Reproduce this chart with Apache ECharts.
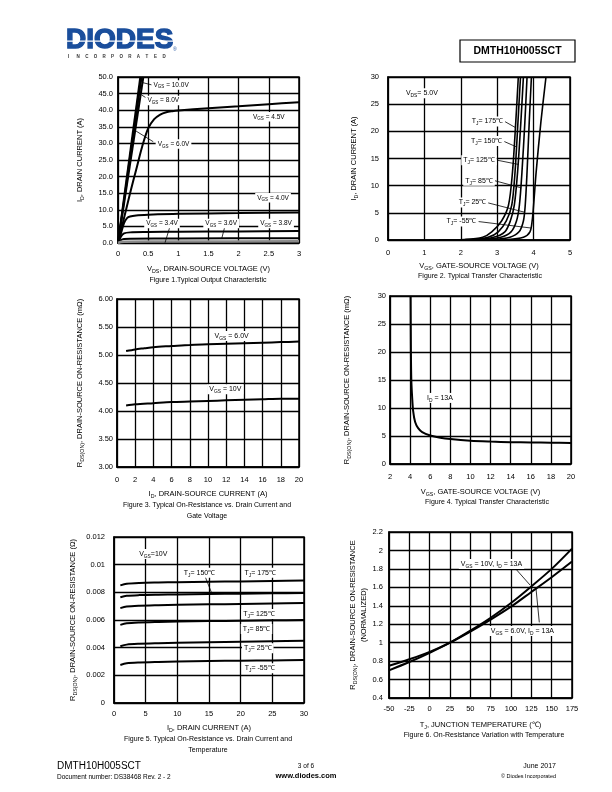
<!DOCTYPE html>
<html>
<head>
<meta charset="utf-8">
<script src="https://cdn.jsdelivr.net/npm/echarts@6/dist/echarts.min.js"></script>
<style>
  html, body { margin: 0; padding: 0; background: #fff; }
  #page { width: 612px; height: 792px; }
</style>
</head>
<body>
<div id="page"></div>
<script>
const FONT = '"Liberation Sans", Arial, Helvetica, sans-serif';

// Figure 1: output characteristic  [VDS (V), ID (A)]
const vgs10 = [[0, 0], [0.37, 50]];
const vgs8 = [[0, 0], [0.39, 50]];
const vgs6 = [[0, 0], [0.42, 50]];
const vgs45 = [[0, 0], [0.1, 7.5], [0.2, 15], [0.3, 22], [0.4, 29], [0.5, 34.5], [0.6, 37.3], [0.7, 38.7], [0.8, 39.4], [0.9, 39.7], [1, 39.9], [1.5, 40.6], [2, 41.2], [2.5, 41.8], [3, 42.4]];
const vgs40 = [[0, 0], [0.05, 3], [0.1, 6], [0.15, 7.5], [0.2, 8], [0.3, 8.3], [0.5, 8.5], [1, 8.8], [2, 9.0], [3, 9.2]];
const vgs38 = [[0, 0], [0.05, 2], [0.1, 2.9], [0.2, 3.2], [0.5, 3.3], [1, 3.4], [2, 3.5], [3, 3.6]];
const vgs36 = [[0, 0], [0.05, 0.9], [0.1, 1.2], [0.2, 1.3], [1, 1.35], [3, 1.45]];
const vgs34 = [[0, 0], [0.05, 0.3], [0.1, 0.4], [1, 0.45], [3, 0.5]];

// Figure 2: transfer characteristic  [VGS (V), ID (A)]
const tj175 = [[1.4, 0], [2.1, 0.1], [2.6, 0.5], [2.85, 1.5], [3.12, 3.5], [3.31, 6.4], [3.42, 12.5], [3.51, 21.7], [3.58, 30]];
const tj150 = [[1.5, 0], [2.25, 0.1], [2.75, 0.5], [3.03, 1.5], [3.25, 3.5], [3.40, 6.4], [3.49, 12.5], [3.57, 21.7], [3.64, 30]];
const tj125 = [[1.6, 0], [2.4, 0.1], [2.9, 0.5], [3.21, 1.5], [3.36, 3.5], [3.47, 6.4], [3.56, 12.5], [3.65, 21.7], [3.72, 30]];
const tj85 = [[1.75, 0], [2.6, 0.1], [3.1, 0.5], [3.38, 1.5], [3.53, 3.5], [3.61, 6.4], [3.68, 12.5], [3.76, 21.7], [3.82, 30]];
const tj25 = [[1.9, 0], [2.9, 0.1], [3.35, 0.5], [3.6, 1.5], [3.72, 3.5], [3.77, 6.4], [3.82, 12.5], [3.88, 21.7], [3.94, 30]];
const tjm55 = [[2.2, 0], [3.3, 0.1], [3.72, 0.5], [3.9, 1.5], [3.96, 3.5], [4.0, 6.4], [4.07, 12.5], [4.2, 21.7], [4.34, 30]];

// Figure 3: RDS(ON) vs ID  [ID (A), mOhm]
const rds6v = [[1, 5.07], [2, 5.10], [3, 5.12], [4, 5.14], [6, 5.16], [8, 5.18], [10, 5.19], [12, 5.20], [14, 5.21], [16, 5.22], [18, 5.23], [20, 5.24]];
const rds10v = [[1, 4.10], [2, 4.12], [4, 4.14], [6, 4.16], [8, 4.17], [10, 4.18], [12, 4.19], [14, 4.20], [16, 4.21], [18, 4.22], [20, 4.22]];

// Figure 4: RDS(ON) vs VGS at ID = 13A  [VGS (V), mOhm]
const rdsVgs = [[4.05, 30], [4.08, 20], [4.12, 15], [4.2, 12], [4.3, 9.5], [4.5, 7.5], [4.8, 6.4], [5.2, 5.7], [6, 5.1], [7, 4.7], [8, 4.45], [10, 4.15], [12, 4.0], [14, 3.9], [16, 3.85], [18, 3.8], [20, 3.75]];

// Figure 5: RDS(ON) vs ID and temperature  [ID (A), Ohm]
const r175 = [[1, 0.0085], [2, 0.00862], [4, 0.00868], [7, 0.00871], [10, 0.00873], [15, 0.00876], [20, 0.00879], [25, 0.00882], [30, 0.00885]];
const r150 = [[1, 0.00765], [2, 0.00775], [4, 0.0078], [7, 0.00783], [10, 0.00785], [15, 0.00788], [20, 0.0079], [25, 0.00793], [30, 0.00795]];
const r125 = [[1, 0.00686], [2, 0.00697], [4, 0.00703], [7, 0.00707], [10, 0.0071], [15, 0.00713], [20, 0.00716], [25, 0.00719], [30, 0.00722]];
const r85 = [[1, 0.00565], [2, 0.00576], [4, 0.00582], [7, 0.00586], [10, 0.00589], [15, 0.00592], [20, 0.00595], [25, 0.00598], [30, 0.006]];
const r25 = [[1, 0.0041], [2, 0.00422], [4, 0.00428], [7, 0.00432], [10, 0.00435], [15, 0.00439], [20, 0.00443], [25, 0.00447], [30, 0.0045]];
const rm55 = [[1, 0.00275], [2, 0.00287], [4, 0.00293], [7, 0.00297], [10, 0.003], [15, 0.00303], [20, 0.00306], [25, 0.00308], [30, 0.0031]];

// Figure 6: normalized RDS(ON) vs TJ  [degC, ratio]
const norm10v = [[-50, 0.70], [-25, 0.79], [0, 0.89], [25, 1.0], [50, 1.13], [75, 1.27], [100, 1.43], [125, 1.61], [150, 1.80], [175, 2.02]];
const norm6v = [[-50, 0.75], [-25, 0.82], [0, 0.90], [25, 1.0], [50, 1.12], [75, 1.25], [100, 1.39], [125, 1.55], [150, 1.71], [175, 1.88]];

// annotations (data coordinates)
const labels = [
  [ // fig 1
    { at: [0.88, 47.6], text: '{t|V}{s|GS}{t| = 10.0V}' },
    { at: [0.75, 42.9], text: '{t|V}{s|GS}{t| = 8.0V}' },
    { at: [2.50, 38.0], text: '{t|V}{s|GS}{t| = 4.5V}' },
    { at: [0.92, 29.8], text: '{t|V}{s|GS}{t| = 6.0V}' },
    { at: [2.57, 13.6], text: '{t|V}{s|GS}{t| = 4.0V}' },
    { at: [0.73, 5.9], text: '{t|V}{s|GS}{t| = 3.4V}' },
    { at: [1.71, 5.9], text: '{t|V}{s|GS}{t| = 3.6V}' },
    { at: [2.62, 5.9], text: '{t|V}{s|GS}{t| = 3.8V}' }
  ],
  [ // fig 2
    { at: [0.93, 27.0], text: '{t|V}{s|DS}{t|= 5.0V}' },
    { at: [2.73, 21.8], text: '{t|T}{s|J}{t|= 175℃}' },
    { at: [2.71, 18.2], text: '{t|T}{s|J}{t|= 150℃}' },
    { at: [2.50, 14.7], text: '{t|T}{s|J}{t|= 125℃}' },
    { at: [2.50, 10.9], text: '{t|T}{s|J}{t|= 85℃}' },
    { at: [2.32, 6.9], text: '{t|T}{s|J}{t|= 25℃}' },
    { at: [2.02, 3.4], text: '{t|T}{s|J}{t|= -55℃}' }
  ],
  [ // fig 3
    { at: [12.6, 5.34], text: '{t|V}{s|GS}{t| = 6.0V}' },
    { at: [11.9, 4.39], text: '{t|V}{s|GS}{t| = 10V}' }
  ],
  [ // fig 4
    { at: [6.97, 11.8], text: '{t|I}{s|D}{t| = 13A}' }
  ],
  [ // fig 5
    { at: [6.2, 0.01077], text: '{t|V}{s|GS}{t|=10V}' },
    { at: [13.5, 0.00942], text: '{t|T}{s|J}{t|= 150℃}' },
    { at: [23.1, 0.00942], text: '{t|T}{s|J}{t|= 175℃}' },
    { at: [22.9, 0.00643], text: '{t|T}{s|J}{t|= 125℃}' },
    { at: [22.5, 0.00535], text: '{t|T}{s|J}{t|= 85℃}' },
    { at: [22.7, 0.00395], text: '{t|T}{s|J}{t|= 25℃}' },
    { at: [23.0, 0.00251], text: '{t|T}{s|J}{t|= -55℃}' }
  ],
  [ // fig 6
    { at: [76, 1.853], text: '{t|V}{s|GS}{t| = 10V, I}{s|D}{t| = 13A}' },
    { at: [114, 1.126], text: '{t|V}{s|GS}{t| = 6.0V, I}{s|D}{t| = 13A}' }
  ]
];

const arrows = [
  [[[0.63, 47.3], [0.41, 48.3]], [[0.52, 43.1], [0.39, 44.6]], [[0.585, 30.5], [0.30, 33.7]],
   [[0.86, 4.9], [0.78, 0.1]], [[1.77, 4.9], [1.72, 1.4]]],
  [[[3.21, 21.8], [3.50, 20.7]], [[3.17, 18.2], [3.54, 17.1]], [[2.99, 14.7], [3.59, 13.9]],
   [[2.94, 10.9], [3.66, 9.6]], [[2.71, 6.9], [3.76, 5.1]], [[2.48, 3.4], [3.93, 2.2]]],
  [],
  [],
  [[[14.4, 0.00913], [15.4, 0.00797]]],
  [[[107, 1.788], [123.4, 1.625]], [[134.8, 1.22], [130.7, 1.59]]]
];

const grids = [
  { left: 118, top: 77, width: 181, height: 166 },
  { left: 388, top: 77, width: 182, height: 163 },
  { left: 117, top: 299, width: 182, height: 168 },
  { left: 390, top: 296, width: 181, height: 168 },
  { left: 114, top: 537, width: 190, height: 166 },
  { left: 389, top: 532, width: 183, height: 166 }
];

const xCfg = [
  { min: 0, max: 3, interval: 0.5, gap: 21, margin: 7, name: '{t|V}{s|DS}{t|, DRAIN-SOURCE VOLTAGE (V)}' },
  { min: 0, max: 5, interval: 1, gap: 21, margin: 9, name: '{t|V}{s|GS}{t|, GATE-SOURCE VOLTAGE (V)}' },
  { min: 0, max: 20, interval: 2, gap: 22, margin: 9, name: '{t|I}{s|D}{t|, DRAIN-SOURCE CURRENT (A)}' },
  { min: 2, max: 20, interval: 2, gap: 23, margin: 9, name: '{t|V}{s|GS}{t|, GATE-SOURCE VOLTAGE (V)}' },
  { min: 0, max: 30, interval: 5, gap: 20, margin: 7, name: '{t|I}{s|D}{t|, DRAIN CURRENT (A)}' },
  { min: -50, max: 175, interval: 25, gap: 22, margin: 7, name: '{t|T}{s|J}{t|, JUNCTION TEMPERATURE (℃)}' }
];

const yCfg = [
  { min: 0, max: 50, interval: 5, gap: 33, margin: 5, fmt: v => v.toFixed(1), name: '{t|I}{s|D}{t|, DRAIN CURRENT (A)}' },
  { min: 0, max: 30, interval: 5, gap: 29, margin: 9, fmt: v => String(v), name: '{t|I}{s|D}{t|, DRAIN CURRENT (A)}' },
  { min: 3, max: 6, interval: 0.5, gap: 32, margin: 4, fmt: v => v.toFixed(2), name: '{t|R}{s|DS(ON)}{t|, DRAIN-SOURCE ON-RESISTANCE (mΩ)}' },
  { min: 0, max: 30, interval: 5, gap: 38, margin: 4, fmt: v => String(v), name: '{t|R}{s|DS(ON)}{t|, DRAIN-SOURCE ON-RESISTANCE (mΩ)}' },
  { min: 0, max: 0.012, interval: 0.002, gap: 36, margin: 9, fmt: v => String(+v.toFixed(4)), name: '{t|R}{s|DS(ON)}{t|, DRAIN-SOURCE ON-RESISTANCE (Ω)}' },
  { min: 0.4, max: 2.2, interval: 0.2, gap: 20, margin: 6, fmt: v => String(+v.toFixed(2)), name: '{t|R}{s|DS(ON)}{t|, DRAIN-SOURCE ON-RESISTANCE}\n{t|(NORMALIZED)}' }
];

const curves = [
  { g: 0, data: vgs10, w: 2 }, { g: 0, data: vgs8, w: 2 }, { g: 0, data: vgs6, w: 2 },
  { g: 0, data: vgs45, w: 2 }, { g: 0, data: vgs40, w: 2 }, { g: 0, data: vgs38, w: 2 },
  { g: 0, data: vgs36, w: 2 }, { g: 0, data: vgs34, w: 2.5, color: '#8a8a8a' },
  { g: 1, data: tj175, w: 1.6 }, { g: 1, data: tj150, w: 1.6 }, { g: 1, data: tj125, w: 1.6 },
  { g: 1, data: tj85, w: 1.6 }, { g: 1, data: tj25, w: 1.6 }, { g: 1, data: tjm55, w: 1.6 },
  { g: 2, data: rds6v, w: 2 }, { g: 2, data: rds10v, w: 2 },
  { g: 3, data: rdsVgs, w: 2 },
  { g: 4, data: r175, w: 2 }, { g: 4, data: r150, w: 2 }, { g: 4, data: r125, w: 2 },
  { g: 4, data: r85, w: 2 }, { g: 4, data: r25, w: 2 }, { g: 4, data: rm55, w: 2 },
  { g: 5, data: norm10v, w: 2 }, { g: 5, data: norm6v, w: 2 }
];

const richFor = (size) => ({
  t: { fontSize: size, lineHeight: size + 3, fontFamily: FONT, color: '#000' },
  s: { fontSize: size * 0.7, lineHeight: size * 0.7 + 1, fontFamily: FONT, color: '#000', verticalAlign: 'bottom' }
});

const axisLabelStyle = { fontFamily: FONT, fontSize: 7.5, color: '#000' };
const gridLine = { show: true, lineStyle: { color: '#000', width: 1.3 } };
const axisLine = { show: true, onZero: false, lineStyle: { color: '#000', width: 1.5 } };

const xAxis = xCfg.map((c, i) => ({
  type: 'value', gridIndex: i, min: c.min, max: c.max, interval: c.interval,
  name: c.name, nameLocation: 'middle', nameGap: c.gap,
  nameTextStyle: { rich: richFor(7.5) },
  axisLine, axisTick: { show: false }, splitLine: gridLine,
  axisLabel: Object.assign({ margin: c.margin }, axisLabelStyle)
}));

const yAxis = yCfg.map((c, i) => ({
  type: 'value', gridIndex: i, min: c.min, max: c.max, interval: c.interval,
  name: c.name, nameLocation: 'middle', nameGap: c.gap, nameRotate: 90,
  nameTextStyle: { rich: richFor(7.5), align: 'center' },
  axisLine, axisTick: { show: false }, splitLine: gridLine,
  axisLabel: Object.assign({ margin: c.margin, formatter: c.fmt }, axisLabelStyle)
}));

const series = curves.map(c => ({
  type: 'line', xAxisIndex: c.g, yAxisIndex: c.g, data: c.data,
  showSymbol: false, smooth: 0.3, silent: true,
  lineStyle: { color: c.color || '#000', width: c.w }
}));

// hang the annotations on the first curve of every grid
grids.forEach((g, i) => {
  const s = series.find(x => x.xAxisIndex === i);
  const size = i === 0 ? 6.5 : 7;
  s.markPoint = {
    silent: true, animation: false,
    data: labels[i].map(l => ({
      coord: l.at, symbol: 'rect', symbolSize: 0,
      label: { show: true, position: 'inside', formatter: l.text, rich: richFor(size), backgroundColor: '#fff', padding: [0, 2] }
    }))
  };
  if (arrows[i].length) {
    s.markLine = {
      silent: true, animation: false, symbol: ['none', 'arrow'], symbolSize: [0, 5],
      label: { show: false }, lineStyle: { type: 'solid', color: '#000', width: 0.8 },
      data: arrows[i].map(a => [{ coord: a[0] }, { coord: a[1] }])
    };
  }
});

const txt = (text, x, y, size, opts) => ({
  type: 'text', silent: true,
  style: Object.assign({
    text, x, y, font: `${size}px ${FONT}`, fill: '#000',
    textAlign: 'left', align: 'left', textVerticalAlign: 'middle', verticalAlign: 'middle'
  }, opts || {})
});
const center = { textAlign: 'center', align: 'center' };
const right = { textAlign: 'right', align: 'right' };

const captions = [
  txt('Figure 1.Typical Output Characteristic', 208, 280, 7, center),
  txt('Figure 2. Typical Transfer Characteristic', 480, 276, 7, center),
  txt('Figure 3. Typical On-Resistance vs. Drain Current and', 207, 505, 7, center),
  txt('Gate Voltage', 207, 516, 7, center),
  txt('Figure 4. Typical Transfer Characteristic', 487, 502, 7, center),
  txt('Figure 5. Typical On-Resistance vs. Drain Current and', 208, 739, 7, center),
  txt('Temperature', 208, 750, 7, center),
  txt('Figure 6. On-Resistance Variation with Temperature', 484, 735, 7, center)
];

const logoBlue = '#1a4e9c';
const incLetters = 'INCORPORATED'.split('').map((ch, k) =>
  txt(ch, 68 + k * 8.6, 57, 4.5, { fill: '#333', font: `bold 4.5px ${FONT}` }));

const header = [
  txt('DIODES', 66, 40, 28, { fill: logoBlue, stroke: logoBlue, lineWidth: 1.4, font: `bold 28px ${FONT}` }),
  { type: 'rect', silent: true, shape: { x: 64, y: 40.5, width: 110, height: 1.2 }, style: { fill: '#fff' } },
  txt('®', 173, 50, 5, { fill: logoBlue }),
  { type: 'rect', silent: true, shape: { x: 460, y: 40, width: 115, height: 22 }, style: { fill: 'none', stroke: '#000', lineWidth: 1.2 } },
  txt('DMTH10H005SCT', 517.5, 51.5, 10.5, Object.assign({ font: `bold 10.5px ${FONT}` }, center))
];

const footer = [
  txt('DMTH10H005SCT', 57, 766, 10),
  txt('Document number: DS38468 Rev. 2 - 2', 57, 777, 6.5),
  txt('3 of 6', 306, 766, 6.5, center),
  txt('www.diodes.com', 306, 776, 7.5, Object.assign({ font: `bold 7.5px ${FONT}` }, center)),
  txt('June 2017', 556, 766, 7, right),
  txt('© Diodes Incorporated', 556, 776, 5.5, right)
];

const chart = echarts.init(document.getElementById('page'));
chart.setOption({
  animation: false,
  backgroundColor: '#fff',
  grid: grids.map(g => Object.assign({ show: true, borderColor: '#000', borderWidth: 1.5, containLabel: false }, g)),
  xAxis, yAxis, series,
  graphic: [].concat(header, incLetters, captions, footer)
});
</script>
</body>
</html>
